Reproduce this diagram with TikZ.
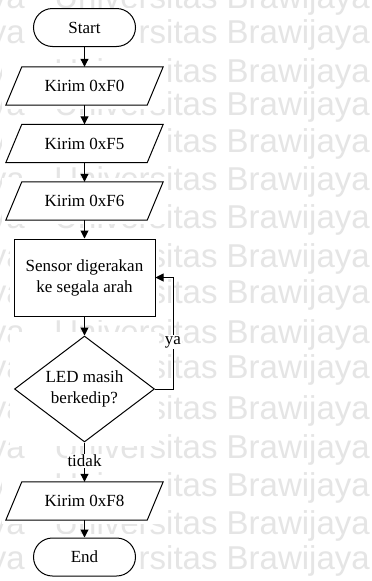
\documentclass[tikz,border=0pt]{standalone}
\usepackage{fontspec}
\setmainfont{Liberation Serif}
\newfontfamily\wmfont{Liberation Sans}
\usetikzlibrary{arrows.meta,shapes.geometric}

\begin{document}
\begin{tikzpicture}[x=1pt,y=-1pt,
  every node/.style={font=\fontsize{17}{21}\selectfont, align=center},
  flow/.style={draw, line width=1pt, fill=white, inner sep=0pt},
  terminal/.style={flow, rectangle, rounded corners=19pt, minimum width=102pt, minimum height=38pt},
  io/.style={rectangle, inner sep=0pt, minimum width=141pt, minimum height=38pt},
  outline/.style={draw, line width=1pt, line join=miter},
  process/.style={flow, rectangle, minimum width=141pt, minimum height=77pt},
  decision/.style={flow, diamond, aspect=1.32, minimum width=140pt, minimum height=106pt},
  link/.style={line width=1pt, -{Triangle[length=8pt,width=8pt]}},
  tag/.style={fill=white, inner sep=1pt},
  wm/.style={font=\wmfont\fontsize{33}{33}\selectfont, text=black!10, anchor=base east, inner sep=0pt},
  plate/.style={fill=white},
]
\useasboundingbox (0,0) rectangle (372,581);
\fill[white] (0,0) rectangle (372,581);

% background lettering
\foreach \b [count=\i] in {8,43,82,115,152,190,228,267,303,343,378,419,458,496,534,569} {
  \node[wm] (wr\i) at (370,\b) {Universitas Brawijaya};
  \node[wm] (wl\i) at (25,\b) {Universitas Brawijaya};
}

% white plates behind the shapes
\fill[plate] (29,8) rectangle (140,51);
\fill[plate] (2,63) rectangle (167,109);
\fill[plate] (2,120) rectangle (167,166);
\fill[plate] (2,178) rectangle (167,224);
\fill[plate] (10,235) rectangle (159,320);
\fill[plate] (10,332) rectangle (159,446);
\fill[plate] (2,478) rectangle (167,524);
\fill[plate] (29,534) rectangle (140,580);

% flowchart
\node[terminal] (start) at (84.5,27.5) {Start};
\node[io] (f0) at (84.5,86) {Kirim 0xF0};
\node[io] (f5) at (84.5,143.5) {Kirim 0xF5};
\node[io] (f6) at (84.5,201) {Kirim 0xF6};
\node[process] (sensor) at (84.5,277.5) {Sensor digerakan\\ke segala arah};
\node[decision] (led) at (84.5,389) {LED masih\\berkedip?};
\node[io] (f8) at (84.5,501) {Kirim 0xF8};
\node[terminal] (end) at (84.5,557) {End};

% parallelogram outlines of the send steps
\foreach \n in {f0,f5,f6,f8}
  \draw[outline] ([xshift=8pt]\n.north west) -- ([xshift=8pt]\n.north east)
    -- ([xshift=-8pt]\n.south east) -- ([xshift=-8pt]\n.south west) -- cycle;

\coordinate (loop) at (173,277.5);

\draw[link] (start) -- (f0);
\draw[link] (f0) -- (f5);
\draw[link] (f5) -- (f6);
\draw[link] (f6) -- (sensor);
\draw[link] (sensor) -- (led);
\draw[link] (led.east) -| node[tag, pos=0.71] {ya} (loop) -- (sensor.east);
\draw[link] (led.south) -- node[tag, pos=0.47] {tidak} (f8.north);
\draw[link] (f8) -- (end);
\end{tikzpicture}
\end{document}
